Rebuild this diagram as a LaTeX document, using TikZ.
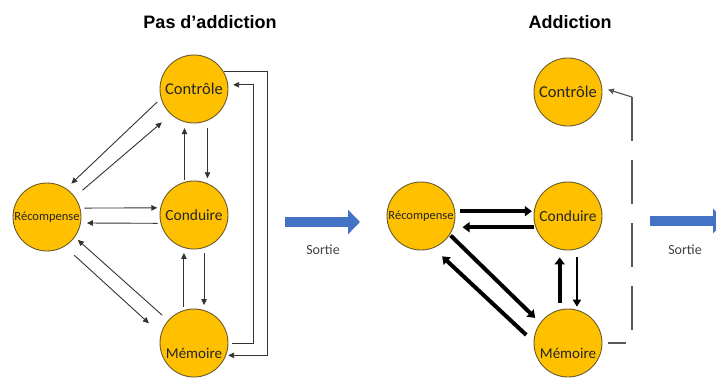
\documentclass[tikz,border=0pt]{standalone}
\usepackage{fontspec}
\setmainfont{Carlito}
\newfontfamily\titrefont{Liberation Sans}
\usetikzlibrary{calc,arrows.meta}
\definecolor{jaune}{HTML}{FFC000}
\definecolor{bord}{HTML}{6B5B2A}
\definecolor{bleu}{HTML}{4472C4}
\tikzset{
	etat/.style={circle, draw=bord, line width=0.9pt, fill=jaune, minimum size=68pt, inner sep=0pt, text=black!85, font=\fontsize{15.5}{15.5}\selectfont},
	petit/.style={font=\fontsize{12.5}{12.5}\selectfont},
	fin/.style={-{Triangle[length=6pt,width=5.5pt]}, draw=black!80, line width=0.9pt, shorten <=5pt, shorten >=5pt},
	gros/.style={-{Triangle[length=7pt,width=10pt]}, draw=black, line width=4pt, shorten <=6pt, shorten >=4pt},
	sortie/.style={-{Triangle[length=12pt,width=24pt]}, draw=bleu, line width=10pt},
	titre/.style={font=\titrefont\bfseries\fontsize{18}{18}\selectfont},
	legende/.style={text=black!75, font=\fontsize{14}{14}\selectfont},
	tirets/.style={draw=black!65, line width=1.2pt},
}

\begin{document}
\begin{tikzpicture}[x=1pt, y=-1pt]
			%%%%% START %%%%%
			\clip (0, 0) rectangle (716, 380);
			
			\node[titre] (titreA) at (210, 22) {Pas d’addiction};
			\node[titre] (titreB) at (570, 22) {Addiction};
			
			\node[etat, font=\fontsize{16.5}{16.5}\selectfont] (ctlA) at (194, 89) {Contrôle};
			\node[etat, petit] (recA) at (47, 217) {Récompense};
			\node[etat] (condA) at (194, 215) {Conduire};
			\node[etat, label={[text=black!85, font=\fontsize{15}{15}\selectfont, yshift=-10pt]center:Mémoire}] (memA) at (194, 343) {};
			
			\draw[fin, shorten <=5pt, shorten >=7pt] (ctlA.196) -- (recA.56);
			\draw[fin, shorten <=10pt, shorten >=12pt] (recA.36) -- (ctlA.228);
			\draw[fin, shorten <=4pt, shorten >=3pt] (recA.15) -- (condA.168);
			\draw[fin, shorten <=3pt, shorten >=6pt] (condA.194) -- (recA.350);
			\draw[fin, shorten <=13pt, shorten >=16pt] (recA.301) -- (memA.165);
			\draw[fin, shorten <=8pt, shorten >=4pt] (memA.139) -- (recA.324);
			
			\draw[fin, shorten <=2pt, shorten >=6pt] (condA.106) -- (ctlA.254);
			\draw[fin, shorten <=7pt, shorten >=5pt] (ctlA.293) -- (condA.67);
			\draw[fin, shorten <=3pt] (memA.107) -- (condA.253);
			\draw[fin] (condA.287) -- (memA.73);
			
			\coordinate (boucleExt) at (267, 0);
			\coordinate (boucleInt) at (253, 0);
			\draw[fin, shorten <=0pt, shorten >=2pt] (ctlA.30) -- (ctlA.30 -| boucleExt) -- (memA.339 -| boucleExt) -- (memA.339);
			\draw[fin, shorten <=4pt, shorten >=5pt] (memA.east) -- (memA.east -| boucleInt) -- (ctlA.7 -| boucleInt) -- (ctlA.7);
			
			\coordinate (sortieA1) at (285, 222);
			\coordinate (sortieA2) at (360, 222);
			\draw[sortie] (sortieA1) -- (sortieA2);
			\node[legende] (legA) at (323, 250) {Sortie};
			
			\node[etat, font=\fontsize{16.5}{16.5}\selectfont] (ctlB) at (568, 92) {Contrôle};
			\node[etat, petit] (recB) at (421, 216) {Récompense};
			\node[etat] (condB) at (568, 216) {Conduire};
			\node[etat, label={[text=black!85, font=\fontsize{15}{15}\selectfont, yshift=-10pt]center:Mémoire}] (memB) at (568, 343) {};
			
			\draw[gros, shorten <=5pt, shorten >=2pt] (recB.8) -- (condB.172);
			\draw[gros, shorten <=1pt, shorten >=9pt] (condB.199) -- (recB.341);
			\draw[gros, shorten <=1pt, shorten >=7pt] (recB.327) -- (memB.144);
			\draw[gros, shorten <=10pt, shorten >=12pt] (memB.178) -- (recB.291);
			\draw[gros, shorten <=7pt, shorten >=8pt] (memB.104) -- (condB.256);
			\draw[gros, line width=2.5pt, -{Triangle[length=7pt,width=8pt]}, shorten <=8pt, shorten >=3pt] (condB.285) -- (memB.75);
			
			\coordinate (coudeBas) at (632, 343);
			\coordinate (coudeHaut) at (632, 97);
			\draw[tirets, dash pattern=on 44pt off 19pt, dash phase=26pt, shorten <=6pt] (memB.east) -- (coudeBas) -- (coudeHaut);
			\draw[tirets, -{Triangle[length=6pt,width=5.5pt]}, shorten >=6pt] (coudeHaut) -- (ctlB.7);
			
			\coordinate (sortieB1) at (650, 221);
			\coordinate (sortieB2) at (725, 221);
			\draw[sortie] (sortieB1) -- (sortieB2);
			\node[legende] (legB) at (685, 250) {Sortie};
			
			%%%%% END %%%%%
		\end{tikzpicture}
\end{document}
